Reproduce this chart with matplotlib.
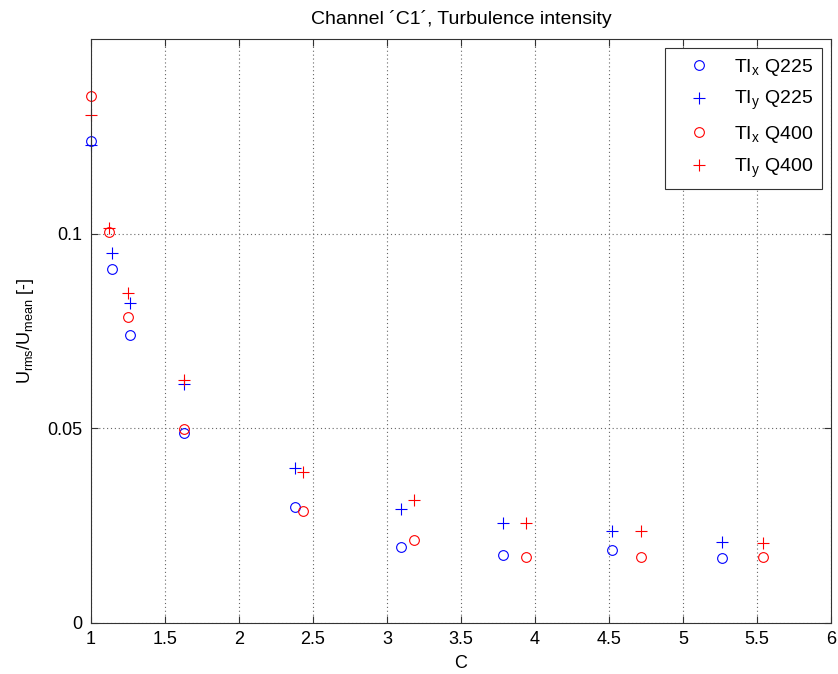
import matplotlib
matplotlib.use("Agg")
import matplotlib.pyplot as plt

plt.rcParams['font.family'] = ['Liberation Sans', 'DejaVu Sans']
plt.rcParams['mathtext.fontset'] = 'custom'
plt.rcParams['mathtext.rm'] = 'Liberation Sans'
plt.rcParams['mathtext.it'] = 'Liberation Sans'
plt.rcParams['mathtext.default'] = 'regular'

# Data
x_q225 = [1.0, 1.142, 1.266, 1.628, 2.378, 3.093, 3.784, 4.520, 5.264]
tix_q225 = [0.1238, 0.0909, 0.0740, 0.0487, 0.0297, 0.0195, 0.0173, 0.0188, 0.0167]
tiy_q225 = [0.1227, 0.0951, 0.0821, 0.0614, 0.0397, 0.0293, 0.0255, 0.0235, 0.0208]

x_q400 = [1.0, 1.122, 1.250, 1.628, 2.432, 3.180, 3.942, 4.714, 5.541]
tix_q400 = [0.1353, 0.1003, 0.0787, 0.0498, 0.0286, 0.0212, 0.0170, 0.0169, 0.0169]
tiy_q400 = [0.1304, 0.1015, 0.0847, 0.0625, 0.0388, 0.0315, 0.0257, 0.0236, 0.0204]

labels = ['TI$_x$ Q225', 'TI$_y$ Q225', 'TI$_x$ Q400', 'TI$_y$ Q400']
xticks = [1, 1.5, 2, 2.5, 3, 3.5, 4, 4.5, 5, 5.5, 6]
xticklabels = ['1', '1.5', '2', '2.5', '3', '3.5', '4', '4.5', '5', '5.5', '6']
yticks = [0, 0.05, 0.1]
yticklabels = ['0', '0.05', '0.1']

fig = plt.figure(figsize=(8.38, 6.74), dpi=100)
ax = fig.add_axes([0.1086, 0.0761, 0.9916 - 0.1086, 0.942 - 0.0761])

ms = 7
mew = 0.8
ax.plot(x_q225, tix_q225, 'o', mfc='none', mec='#0000ff', ms=ms, mew=mew, label=labels[0], clip_on=False)
ax.plot(x_q225, tiy_q225, '+', color='#0000ff', ms=ms + 1, mew=mew, label=labels[1], clip_on=False)
ax.plot(x_q400, tix_q400, 'o', mfc='none', mec='#ff0000', ms=ms, mew=mew, label=labels[2], clip_on=False)
ax.plot(x_q400, tiy_q400, '+', color='#ff0000', ms=ms + 1, mew=mew, label=labels[3], clip_on=False)

ax.set_xlim(1, 6)
ax.set_ylim(0, 0.15)
ax.set_xticks(xticks)
ax.set_xticklabels(xticklabels)
ax.set_yticks(yticks)
ax.set_yticklabels(yticklabels)
ax.tick_params(direction='in', length=5, width=0.8, color='#333333', labelsize=13,
               top=True, right=True, pad=6)
ax.grid(True, linestyle=(0, (1, 2.5)), color='#666666', linewidth=0.8)
for s in ax.spines.values():
    s.set_color('#333333')
    s.set_linewidth(0.8)

ax.set_title("Channel \u00b4C1\u00b4, Turbulence intensity", fontsize=14, pad=11)
ax.set_xlabel('C', fontsize=13, labelpad=5)
ax.set_ylabel('U$_{rms}$/U$_{mean}$ [-]', fontsize=13, labelpad=8)

leg = ax.legend(loc='upper right', fontsize=14, frameon=True, fancybox=False,
                edgecolor='#333333', framealpha=1, borderaxespad=0.45,
                handletextpad=0.5, labelspacing=0.6, borderpad=0.45, handlelength=2.6)
leg.get_frame().set_linewidth(0.8)

fig.savefig('out.png', dpi=100)
